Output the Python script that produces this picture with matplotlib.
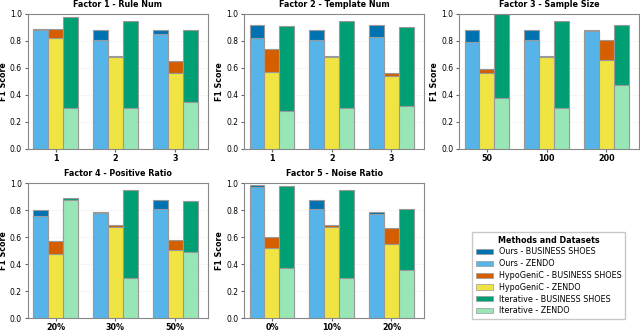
import numpy as np
import matplotlib
matplotlib.use('Agg')
import matplotlib.pyplot as plt
from matplotlib.patches import Patch

plt.rcParams['font.family'] = ['DejaVu Sans']

titles = ['Factor 1 - Rule Num', 'Factor 2 - Template Num', 'Factor 3 - Sample Size',
          'Factor 4 - Positive Ratio', 'Factor 5 - Noise Ratio']
xlabels = [['1', '2', '3'], ['1', '2', '3'], ['50', '100', '200'],
           ['20%', '30%', '50%'], ['0%', '10%', '20%']]

# BUSINESS SHOES / ZENDO per method, per factor
ours_bs = [[0.89, 0.88, 0.88], [0.92, 0.88, 0.92], [0.88, 0.88, 0.88], [0.80, 0.79, 0.88], [0.99, 0.88, 0.79]]
ours_z = [[0.88, 0.81, 0.85], [0.82, 0.81, 0.83], [0.79, 0.81, 0.87], [0.76, 0.78, 0.81], [0.97, 0.81, 0.77]]
hypo_bs = [[0.89, 0.69, 0.65], [0.74, 0.69, 0.56], [0.59, 0.69, 0.81], [0.57, 0.69, 0.58], [0.60, 0.69, 0.67]]
hypo_z = [[0.82, 0.68, 0.56], [0.57, 0.68, 0.54], [0.56, 0.68, 0.66], [0.48, 0.68, 0.51], [0.52, 0.68, 0.55]]
iter_bs = [[0.98, 0.95, 0.88], [0.91, 0.95, 0.90], [1.00, 0.95, 0.92], [0.89, 0.95, 0.87], [0.98, 0.95, 0.81]]
iter_z = [[0.30, 0.30, 0.35], [0.28, 0.30, 0.32], [0.38, 0.30, 0.47], [0.88, 0.30, 0.49], [0.37, 0.30, 0.36]]

methods = ['Ours', 'HypoGeniC', 'Iterative']
dark = ['#0072B2', '#D55E00', '#009E73']
light = ['#56B4E9', '#F0E442', '#98E6B5']

fig = plt.figure(figsize=(6.4, 3.31), dpi=100)

lefts = [0.043, 0.381, 0.717]
w, h = 0.282, 0.408
pos = [(lefts[0], 0.550), (lefts[1], 0.550), (lefts[2], 0.550),
       (lefts[0], 0.038), (lefts[1], 0.038)]

bw = 0.25
x = np.arange(1, 4)
for i in range(5):
    ax = fig.add_axes([pos[i][0], pos[i][1], w, h])
    data = [(ours_bs[i], ours_z[i]), (hypo_bs[i], hypo_z[i]), (iter_bs[i], iter_z[i])]
    for m, (bs, z) in enumerate(data):
        off = (m - 1) * bw
        ax.bar(x + off, bs, bw, color=dark[m], edgecolor='#999999', linewidth=0.8, zorder=2)
        ax.bar(x + off, z, bw, color=light[m], edgecolor='#999999', linewidth=0.8, zorder=3)
    ax.set_ylim(0, 1.0)
    ax.set_xlim(0.53, 3.55)
    ax.set_xticks(x)
    ax.set_xticklabels(xlabels[i], fontweight='bold', fontsize=5.8)
    ax.set_yticks(np.arange(0, 1.01, 0.2))
    ax.set_yticklabels(['%.1f' % v for v in np.arange(0, 1.01, 0.2)], fontsize=5.5)
    ax.set_ylabel('F1 Score', fontweight='bold', fontsize=5.7, labelpad=1.5)
    ax.set_title(titles[i], fontweight='bold', fontsize=5.8, pad=5)
    ax.grid(axis='y', linestyle=':', linewidth=0.5, color='#dddddd', zorder=0)
    ax.tick_params(length=2.5, color='#666666')
    ax.tick_params(axis='x', pad=1)
    ax.tick_params(axis='y', pad=1.5)
    for s in ax.spines.values():
        s.set_color('#888888')

handles = []
labels = []
for m in range(3):
    handles.append(Patch(facecolor=dark[m], edgecolor='#999999', linewidth=0.5))
    labels.append(methods[m] + ' - BUSINESS SHOES')
    handles.append(Patch(facecolor=light[m], edgecolor='#999999', linewidth=0.5))
    labels.append(methods[m] + ' - ZENDO')

leg = fig.legend(handles, labels, title='Methods and Datasets', fontsize=5.8,
                 title_fontproperties={'weight': 'bold', 'size': 5.8},
                 loc='lower left', bbox_to_anchor=(0.7375, 0.036), borderaxespad=0,
                 frameon=True, fancybox=False, edgecolor='#bbbbbb',
                 handlelength=2.1, handleheight=0.6, labelspacing=0.35, borderpad=0.45)

fig.savefig('out.png', dpi=100)
